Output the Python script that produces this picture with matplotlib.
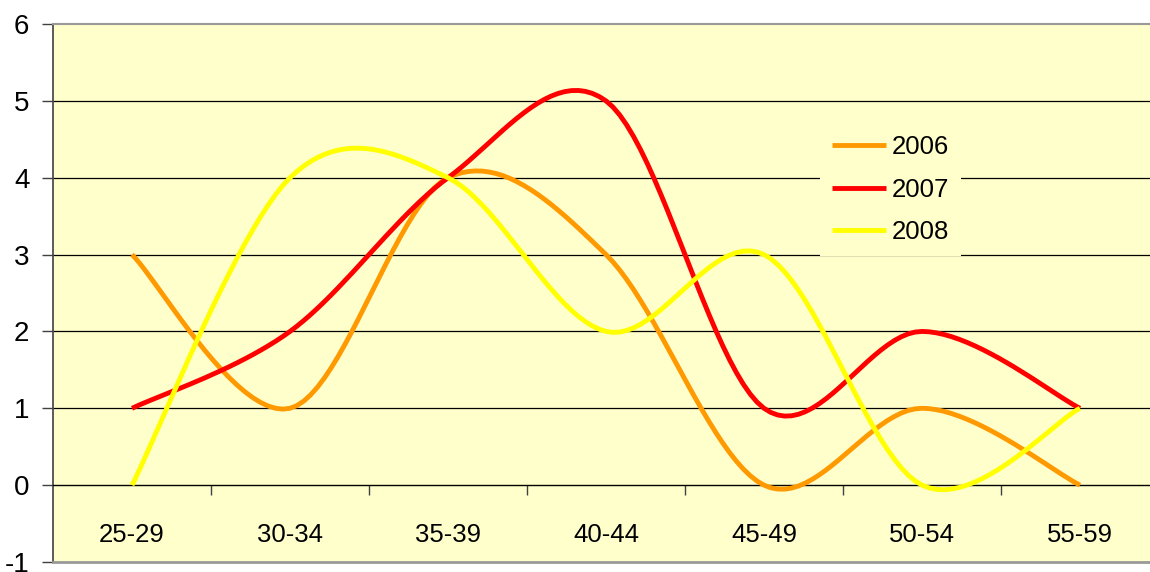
import matplotlib
matplotlib.use("Agg")
import matplotlib.pyplot as plt
import numpy as np

plt.rcParams['font.family'] = ['Liberation Sans', 'DejaVu Sans']
plt.rcParams['axes.unicode_minus'] = False

# data
groups = ['25-29', '30-34', '35-39', '40-44', '45-49', '50-54', '55-59']
y2006 = [3, 1, 4, 3, 0, 1, 0]
y2007 = [1, 2, 4, 5, 1, 2, 1]
y2008 = [0, 4, 4, 2, 3, 0, 1]
series = [('2006', y2006, '#FF9900'), ('2007', y2007, '#FF0000'), ('2008', y2008, '#FFFF00')]
yticks = [-1, 0, 1, 2, 3, 4, 5, 6]


def smooth(xs, ys, steps=24):
    # Excel style smoothed line: Bezier segments with Catmull-Rom control points
    P = np.column_stack([xs, ys]).astype(float)
    n = len(P)
    t = np.linspace(0, 1, steps)[:, None]
    out = []
    for i in range(n - 1):
        p0 = P[max(i - 1, 0)]
        p1 = P[i]
        p2 = P[i + 1]
        p3 = P[min(i + 2, n - 1)]
        c1 = p1 + (p2 - p0) / 6
        c2 = p2 - (p3 - p1) / 6
        seg = ((1 - t) ** 3) * p1 + 3 * ((1 - t) ** 2) * t * c1 + 3 * (1 - t) * t ** 2 * c2 + t ** 3 * p2
        out.append(seg if i == 0 else seg[1:])
    out = np.vstack(out)
    return out[:, 0], out[:, 1]


fig = plt.figure(figsize=(11.5, 5.72), dpi=100, facecolor='white')
ax = fig.add_axes([0.0461, 0.0175, 0.9617, 0.9405])
ax.set_facecolor('#FFFFCC')

xs = np.arange(len(groups))
ax.hlines([1, 2, 3, 4, 5], -0.5, 6.5, color='black', lw=0.9, zorder=1)

for name, vals, col in series:
    sx, sy = smooth(xs, vals)
    ax.plot(sx, sy, color=col, lw=3.5, label=name, zorder=3, solid_capstyle='butt')

ax.set_xlim(-0.5, 6.5)
ax.set_ylim(-1, 6)

# y axis
ax.set_yticks(yticks)
ax.tick_params(axis='y', length=8, width=1, color='#404040', labelsize=20, pad=9)

# category axis sits on y = 0
ax.spines['bottom'].set_position(('data', 0))
ax.spines['bottom'].set_color('black')
ax.spines['bottom'].set_linewidth(1)
ax.set_xticks(xs)
ax.set_xticklabels(groups)
ax.set_xticks(np.arange(0.5, 6.5, 1), minor=True)
ax.tick_params(axis='x', which='major', length=0, labelsize=18.5, pad=27)
ax.tick_params(axis='x', which='minor', length=7, width=1, color='#404040')

ax.spines['left'].set_color('#404040')
ax.spines['left'].set_linewidth(1.2)
ax.spines['top'].set_color('#999999')
ax.spines['top'].set_linewidth(1.5)
ax.spines['right'].set_visible(False)
ax.axhline(-1, color='#999999', lw=2, zorder=5, clip_on=False)

leg = ax.legend(loc='center left', bbox_to_anchor=(0.702, 0.668), bbox_transform=fig.transFigure,
                fontsize=18.5, frameon=True, facecolor='#FFFFCC', edgecolor='none', framealpha=1,
                handlelength=2.1, handletextpad=0.25, labelspacing=0.72, borderpad=0.45, fancybox=False)
leg.set_zorder(4)

fig.savefig('out.png', dpi=100, facecolor='white')
